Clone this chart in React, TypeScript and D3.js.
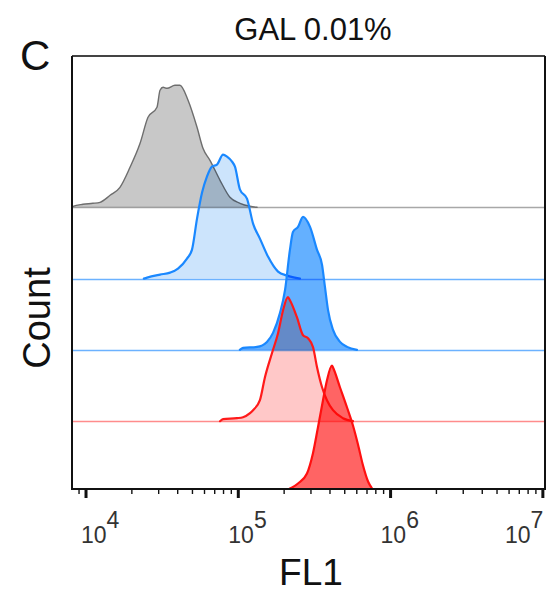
import React from "react";
import * as d3 from "d3";

// ---- data ----
const tickExponents = [4, 5, 6, 7];
const minorMultipliers = [2, 3, 4, 5, 6, 7, 8, 9];
const titleText = "GAL 0.01%";
const panelLetter = "C";
const xLabel = "FL1";
const yLabel = "Count";

// log10(FL1) positions and counts for each histogram (top lane to bottom lane)
const grayExp = [3.908, 3.915, 3.98, 4.045, 4.092, 4.158, 4.223, 4.289, 4.355, 4.407, 4.466, 4.486, 4.506, 4.532, 4.584, 4.617, 4.67, 4.729, 4.768, 4.814, 4.88, 4.945, 5.011, 5.077, 5.123];
const grayCount = [0, 1, 3, 4, 5, 12, 20, 40, 64, 90, 100, 117, 120, 119, 122, 122, 107, 80, 59, 47, 27, 10, 4, 1, 0];

const lightBlueExp = [4.38, 4.401, 4.486, 4.552, 4.604, 4.663, 4.696, 4.729, 4.762, 4.794, 4.827, 4.86, 4.9, 4.926, 4.959, 4.978, 5.011, 5.057, 5.097, 5.142, 5.195, 5.261, 5.32, 5.405];
const lightBlueCount = [0, 1, 4, 6, 10, 20, 29, 60, 86, 102, 112, 114, 124, 122, 117, 112, 89, 80, 55, 40, 22, 7, 3, 0];

const darkBlueExp = [5.01, 5.031, 5.123, 5.188, 5.228, 5.274, 5.307, 5.339, 5.359, 5.392, 5.425, 5.471, 5.517, 5.55, 5.569, 5.589, 5.622, 5.668, 5.714, 5.779];
const darkBlueCount = [0, 2, 3, 8, 17, 37, 60, 100, 118, 123, 133, 123, 100, 85, 63, 40, 20, 8, 3, 0];

const lightRedExp = [4.88, 4.9, 4.991, 5.031, 5.077, 5.097, 5.142, 5.175, 5.221, 5.261, 5.294, 5.326, 5.339, 5.385, 5.425, 5.458, 5.491, 5.517, 5.55, 5.582, 5.622, 5.687, 5.753];
const lightRedCount = [0, 2, 3, 4, 8, 11, 21, 44, 68, 88, 111, 124, 121, 104, 86, 83, 74, 54, 34, 21, 11, 3, 0];

const redExp = [5.3, 5.339, 5.353, 5.392, 5.451, 5.49, 5.523, 5.556, 5.582, 5.615, 5.622, 5.668, 5.714, 5.753, 5.786, 5.819, 5.852, 5.878, 5.9];
const redCount = [0, 4, 5, 9, 19, 39, 65, 92, 112, 127, 125, 105, 85, 67, 48, 27, 11, 4, 0];

const seriesNames = ["gray", "lightBlue", "darkBlue", "lightRed", "red"];
const seriesExp = [grayExp, lightBlueExp, darkBlueExp, lightRedExp, redExp];
const seriesCount = [grayCount, lightBlueCount, darkBlueCount, lightRedCount, redCount];
const seriesFill = ["#c8c8c8", "#cce4fc", "#64b0ff", "#ffc8c8", "#ff6464"];
const seriesStroke = ["#6e6e6e", "#1a88ff", "#1a88ff", "#ff1a1a", "#ff1010"];
const seriesBaseStroke = ["#a8a8a8", "#6cb2ff", "#6cb2ff", "#ff8c8c", "none"];
const seriesStrokeWidth = [1.4, 2.2, 2.2, 2.2, 2.2];

// ---- layout ----
const W = 546;
const H = 593;
const left = 72;
const right = 545;
const top = 56;
const bottom = 489;
const xDomainExp = [3.908, 7.014];
const laneRange = [492.5, 207.3];

export default function App() {
  const x = d3
    .scaleLog()
    .domain([Math.pow(10, xDomainExp[0]), Math.pow(10, xDomainExp[1])])
    .range([left, right]);
  const y = d3.scaleLinear().domain([0, 140]).range([0, 140]);

  const nLanes = seriesNames.length;
  const laneY = d3.scaleLinear().domain([0, nLanes - 1]).range(laneRange);

  const ticks: { v: number; major: boolean }[] = [];
  for (let e = 3; e <= 7; e++) {
    ticks.push({ v: Math.pow(10, e), major: true });
    for (const m of minorMultipliers) ticks.push({ v: m * Math.pow(10, e), major: false });
  }
  const [d0, d1] = x.domain();
  const visTicks = ticks.filter((t) => t.v >= d0 && t.v <= d1);

  return (
    <svg
      width={W}
      height={H}
      style={{ position: "absolute", left: 0, top: 0, background: "#fff" }}
      fontFamily="'Liberation Sans', Arial, Helvetica, sans-serif"
    >
      <defs>
        <clipPath id="plotClip">
          <rect x={left} y={top} width={right - left} height={bottom - top} />
        </clipPath>
      </defs>
      <rect x={0} y={0} width={W} height={H} fill="#fff" />
      {/* histograms */}
      <g clipPath="url(#plotClip)">
        {seriesNames.map((name, i) => {
          const lane = nLanes - 1 - i;
          const base = laneY(lane);
          const lineY = Math.round(base) + 0.5;
          const pts = seriesExp[i].map((e, k) => [Math.pow(10, e), seriesCount[i][k]] as [number, number]);
          const area = d3
            .area<[number, number]>()
            .x((d) => x(d[0]))
            .y0(base)
            .y1((d) => base - y(d[1]))
            .curve(d3.curveMonotoneX);
          const line = d3
            .line<[number, number]>()
            .x((d) => x(d[0]))
            .y((d) => base - y(d[1]))
            .curve(d3.curveMonotoneX);
          return (
            <g key={name}>
              {seriesBaseStroke[i] !== "none" && (
                <line x1={left} x2={right} y1={lineY} y2={lineY} stroke={seriesBaseStroke[i]} strokeWidth={1.3} />
              )}
              <path d={area(pts) || ""} fill={seriesFill[i]} style={{ mixBlendMode: "multiply" }} />
              <path
                d={line(pts) || ""}
                fill="none"
                stroke={seriesStroke[i]}
                strokeWidth={seriesStrokeWidth[i]}
                strokeLinejoin="round"
                strokeLinecap="round"
              />
            </g>
          );
        })}
      </g>

      {/* frame */}
      <line x1={left} x2={right} y1={top} y2={top} stroke="#444" strokeWidth={2} />
      <line x1={right} x2={right} y1={top} y2={bottom} stroke="#111" strokeWidth={2} />
      <line x1={left} x2={left} y1={top} y2={bottom + 1} stroke="#111" strokeWidth={2} />
      <line x1={left - 1} x2={right + 1} y1={bottom} y2={bottom} stroke="#111" strokeWidth={2} />

      {/* ticks */}
      {visTicks.map((t, k) => (
        <line
          key={k}
          x1={x(t.v)}
          x2={x(t.v)}
          y1={bottom}
          y2={bottom + (t.major ? 9 : 5)}
          stroke="#111"
          strokeWidth={t.major ? 3 : 1.4}
        />
      ))}

      {/* tick labels */}
      {tickExponents.map((e) => {
        const tx = x(Math.pow(10, e));
        const labelW = 40;
        const sx = Math.min(Math.max(tx - 10, 81), right - labelW);
        return (
          <text key={e} x={sx} y={543} fontSize={23} fill="#333">
            <tspan>10</tspan>
            <tspan dy={-15}>{e}</tspan>
          </text>
        );
      })}

      {/* texts */}
      <text x={313} y={40} fontSize={31} textAnchor="middle" fill="#111">
        {titleText}
      </text>
      <text x={20} y={70} fontSize={42} fill="#111">
        {panelLetter}
      </text>
      <text transform="translate(50,318) rotate(-90)" fontSize={38} textAnchor="middle" fill="#111">
        {yLabel}
      </text>
      <text x={311} y={585} fontSize={37} textAnchor="middle" fill="#111">
        {xLabel}
      </text>
    </svg>
  );
}
